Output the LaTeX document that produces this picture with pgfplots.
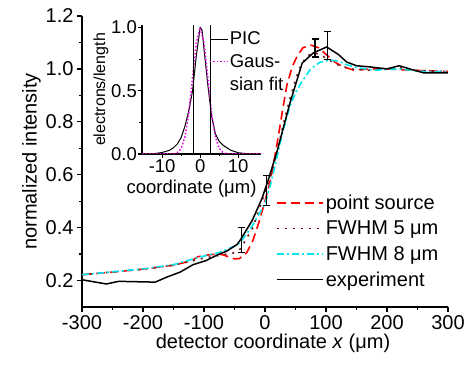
\documentclass[border=0pt]{standalone}
\usepackage{fontspec}
\setmainfont{Liberation Sans}
\usepackage{pgfplots}
\pgfplotsset{compat=1.18}
\definecolor{ps}{RGB}{255,0,0}
\definecolor{fw5}{RGB}{110,25,25}
\definecolor{fw8}{RGB}{0,230,240}
\definecolor{gfit}{RGB}{230,0,230}
\newcommand{\bigf}{\fontsize{20bp}{22bp}\selectfont}
\newcommand{\midf}{\fontsize{18.5bp}{20bp}\selectfont}
\newcommand{\smf}{\fontsize{16bp}{18bp}\selectfont}
\begin{document}
\begin{tikzpicture}
\begin{axis}[
  at={(0,0)}, anchor=south west,
  scale only axis, width=366bp, height=291bp,
  xmin=-300, xmax=300, ymin=0.1, ymax=1.2,
  axis x line*=bottom, axis y line*=left,
  axis line style={-, line width=1.3bp},
  xtick={-300,-200,-100,0,100,200,300},
  ytick={0.2,0.4,0.6,0.8,1.0,1.2},
  minor x tick num=1, minor y tick num=1,
  tick align=outside, major tick length=5bp, minor tick length=3bp,
  tick style={line width=1.2bp, black},
  /pgf/number format/assume math mode=true,
  yticklabel style={/pgf/number format/.cd, fixed, fixed zerofill, precision=1},
  ticklabel style={font=\bigf},
  label style={font=\bigf},
  xlabel={detector coordinate \textit{x} (μm)},
  ylabel={normalized intensity},
  xlabel style={yshift=3bp, xshift=8bp},
  ylabel style={yshift=-2bp},
  legend style={draw=none, fill=none, at={(0.53,0.393)}, anchor=north west,
    font=\bigf, row sep=6bp, inner sep=0pt, nodes={inner sep=2bp}},
  legend cell align=left,
  legend image code/.code={\draw[#1] (0bp,0bp) -- (46bp,0bp);},
]
\addplot[ps, line width=1.6bp, dash pattern=on 9bp off 5bp] coordinates {
(-300,0.222) (-250,0.232) (-200,0.243) (-150,0.258) (-120,0.275) (-110,0.290) (-100,0.295)
(-80,0.300) (-70,0.298) (-60,0.290) (-50,0.282) (-42,0.283) (-30,0.305) (-20,0.350)
(-10,0.420) (0,0.500) (10,0.590) (20,0.720) (25,0.790) (30,0.860) (36,0.940) (45,1.010)
(52,1.045) (62,1.080) (75,1.090) (88,1.080) (100,1.055) (115,1.025) (128,1.008) (145,0.996)
(180,1.000) (200,1.000) (240,0.995) (300,0.990)};
\addlegendentry{point source}
\addplot[fw5, line width=1.6bp, dash pattern=on 2bp off 6bp] coordinates {
(-300,0.222) (-200,0.243) (-150,0.258) (-100,0.285) (-70,0.297) (-50,0.305) (-40,0.320)
(-20,0.400) (-5,0.500) (10,0.600) (20,0.690) (30,0.790) (40,0.880) (50,0.960) (60,1.020)
(70,1.050) (80,1.060) (90,1.055) (100,1.040) (120,1.015) (140,1.000) (170,0.995) (200,1.000)
(220,1.005) (240,0.995) (300,0.990)};
\addlegendentry{FWHM 5 μm}
\addplot[fw8, line width=1.6bp, dash pattern=on 7bp off 3bp on 2bp off 3bp] coordinates {
(-300,0.222) (-200,0.244) (-150,0.260) (-110,0.287) (-75,0.306) (-50,0.330) (-40,0.345)
(-20,0.410) (0,0.490) (10,0.570) (20,0.670) (30,0.770) (41,0.860) (50,0.910) (60,0.950)
(75,1.000) (90,1.025) (105,1.033) (120,1.030) (135,1.015) (150,1.005) (180,0.995)
(220,1.000) (260,0.990) (300,0.990)};
\addlegendentry{FWHM 8 μm}
\addplot[black, line width=1.5bp] coordinates {
(-300,0.203) (-260,0.187) (-240,0.197) (-180,0.194) (-161,0.213) (-139,0.232) (-118,0.260)
(-96,0.276) (-77,0.298) (-63,0.311) (-46,0.336) (-40,0.355) (-21,0.427) (-5,0.510) (5,0.578)
(20,0.690) (41,0.872) (61,1.022) (79,1.060) (101,1.083) (120,1.055) (134,1.026) (150,1.012)
(170,1.008) (200,1.000) (220,1.012) (240,0.998) (260,0.985) (300,0.985)};
\addlegendentry{experiment}
\addplot[draw=none, mark=none, forget plot,
  error bars/.cd, y dir=both, y explicit,
  error bar style={draw=black, solid, line width=1.2bp},
  error mark options={draw=black, solid, rotate=90, mark size=3.5bp, line width=1.2bp}]
  table[x=x, y=y, y error=e] {
x y e
-39 0.353 0.047
3 0.541 0.057
82 1.079 0.034
102 1.088 0.052
};
\end{axis}
\begin{axis}[
  at={(60bp,153bp)}, anchor=south west,
  scale only axis, width=119bp, height=129bp,
  xmin=-15.3, xmax=16, ymin=0, ymax=1.02,
  axis x line*=bottom, axis y line*=left,
  axis line style={-, line width=1.3bp},
  xtick={-10,0,10}, ytick={0,0.5,1},
  minor x tick num=1, minor y tick num=1,
  tick align=outside, major tick length=4bp, minor tick length=2.5bp,
  tick style={line width=1.2bp, black},
  /pgf/number format/assume math mode=true,
  yticklabel style={/pgf/number format/.cd, fixed, fixed zerofill, precision=1},
  ticklabel style={font=\midf, inner sep=1bp},
  xlabel={coordinate (μm)},
  ylabel={electrons/length},
  xlabel style={font=\midf, yshift=-3bp, xshift=-10bp},
  ylabel style={font=\smf, yshift=-2bp},
  legend style={draw=none, fill=none, at={(0.56,0.96)}, anchor=north west,
    font=\midf, row sep=5bp, inner sep=0pt, nodes={inner sep=1.5bp}},
  legend cell align=left,
  legend image code/.code={\draw[#1] (0bp,0bp) -- (18bp,0bp);},
]
\addplot[black, line width=1bp] coordinates {
(-15.3,0) (-12,0.003) (-10,0.012) (-8,0.030) (-7,0.050) (-6,0.080) (-5,0.130) (-4,0.220)
(-3,0.340) (-2,0.500) (-1,0.780) (0,1.000) (0.5,0.980) (1,0.830) (2,0.550) (3,0.300)
(4,0.160) (5,0.100) (6,0.070) (7,0.050) (8,0.030) (10,0.010) (12,0.003) (16,0)};
\addlegendentry{PIC}
\addplot[gfit, line width=1.5bp, dash pattern=on 1.5bp off 2bp] coordinates {
(-15.3,0) (-8,0) (-7,0.002) (-6,0.011) (-5,0.044) (-4,0.135) (-3,0.320) (-2,0.610)
(-1,0.880) (0,1.000) (1,0.880) (2,0.610) (3,0.320) (4,0.135) (5,0.044) (6,0.011) (7,0.002)
(8,0) (16,0)};
\addlegendentry{Gaus-}
\addlegendimage{empty legend}
\addlegendentry{sian fit}
\addplot[black, line width=1bp, forget plot] coordinates {(-1.8,0) (-1.8,1.02)};
\addplot[black, line width=1bp, forget plot] coordinates {(2.6,0) (2.6,1.02)};
\end{axis}
\pgfresetboundingbox
\path (-82bp,-61bp) rectangle (386bp,307bp);
\end{tikzpicture}
\end{document}
